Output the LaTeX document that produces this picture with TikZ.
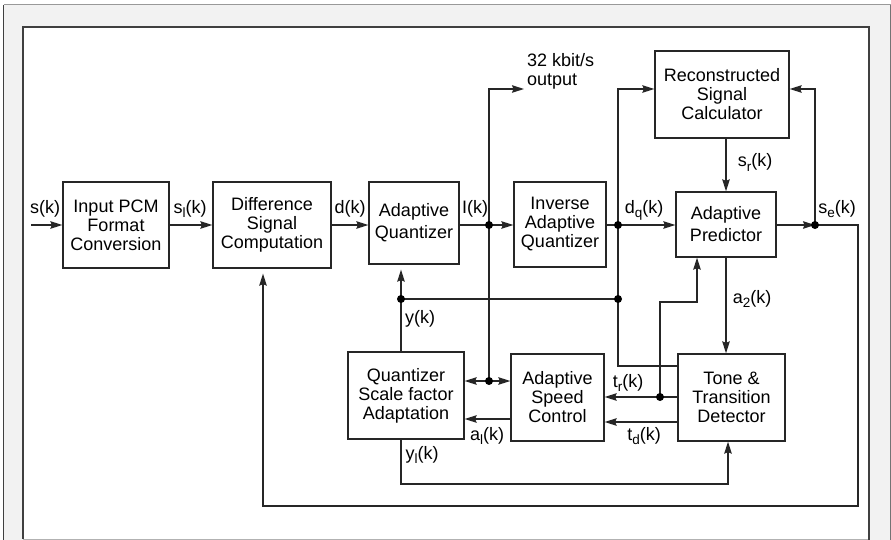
\documentclass[tikz,border=0pt]{standalone}
\usepackage{fontspec}
\setmainfont{Liberation Sans}
\usetikzlibrary{arrows.meta}
\newcommand\dgfont{\fontsize{18}{19}\selectfont}
% lowered subscript for signal names
\newcommand\dgsub[1]{\raisebox{-4.5pt}{\fontsize{13.5}{13.5}\selectfont #1}}
\begin{document}
\begin{tikzpicture}[x=1pt,y=-1pt,
  box/.style={draw=black!85, line width=1.3pt, fill=white, align=center,
              inner sep=0pt, font=\dgfont},
  lbl/.style={font=\dgfont, inner sep=0pt, anchor=base},
  wire/.style={draw=black!85, line width=1.2pt},
  arr/.style={wire, -{Stealth[length=12pt,width=7.5pt,inset=1.5pt]}},
  jdot/.style={circle, fill=black, inner sep=0pt, minimum size=8pt}]

% sheet and frame
\useasboundingbox (0,0) rectangle (891,540);
\fill[white] (0,0) rectangle (891,540);
\fill[black!5] (3.5,5) rectangle (891,545);
\draw[black!40, line width=1pt] (3.5,5) -- (891,5);
\draw[black!75, line width=1.6pt] (3.5,5) -- (3.5,545);
\draw[black!55, line width=1pt] (890.5,5) -- (890.5,545);
\fill[white] (23,27) rectangle (869,539);
\draw[black!30, line width=1pt] (23,539) -- (869,539);
\draw[black!75, line width=1.4pt] (23,539) -- (23,27) -- (869,27) -- (869,545);

% blocks
\node[box, minimum width=106pt, minimum height=86pt] (pcm)  at (116,225)   {Input PCM\\Format\\Conversion};
\node[box, minimum width=118pt, minimum height=86pt] (diff) at (272,225)   {Difference\\Signal\\Computation};
\node[box, minimum width=90pt,  minimum height=82pt] (aq)   at (414,223)   {Adaptive\\[3pt]Quantizer};
\node[box, minimum width=92pt,  minimum height=85pt] (iaq)  at (560,224.5) {Inverse\\Adaptive\\Quantizer};
\node[box, minimum width=100pt, minimum height=65pt] (ap)   at (726,224.5) {Adaptive\\[3pt]Predictor};
\node[box, minimum width=134pt, minimum height=87pt] (rsc)  at (722,94.5)  {Reconstructed\\Signal\\Calculator};
\node[box, minimum width=116pt, minimum height=87pt] (qsfa) at (406,395.5) {Quantizer\\Scale factor\\Adaptation};
\node[box, minimum width=93pt,  minimum height=87pt] (asc)  at (557.5,397.5) {Adaptive\\Speed\\Control};
\node[box, minimum width=107pt, minimum height=87pt] (ttd)  at (731.5,397.5) {Tone \&\\Transition\\Detector};

% junctions and bends
\coordinate (in)     at (31,225);
\coordinate (idot)   at (489,225);
\coordinate (dqdot)  at (618,225);
\coordinate (sedot)  at (815,225);
\coordinate (ydot)   at (401,299);
\coordinate (ydotr)  at (618,299);
\coordinate (isplit) at (489,381);
\coordinate (trdot)  at (660,397);
\coordinate (outbend) at (489,89);
\coordinate (outtip)  at (524,89);
\coordinate (rbend)  at (618,89);
\coordinate (sebend) at (815,89);
\coordinate (dqlow)  at (618,366);
\coordinate (fb1)    at (858,225);
\coordinate (fb2)    at (858,506);
\coordinate (fb3)    at (263,506);
\coordinate (tr1)    at (660,302);
\coordinate (tr2)    at (697,302);
\coordinate (yl1)    at (401,484);
\coordinate (yl2)    at (728,484);

% forward path
\draw[arr] (in) -- (pcm.west);
\draw[arr] (pcm.east) -- (diff.west);
\draw[arr] (diff.east) -- (diff.east -| aq.west);
\draw[wire] (aq.east |- idot) -- (idot);
\draw[arr] (idot) -- (idot -| iaq.west);
\draw[wire] (iaq.east |- dqdot) -- (dqdot);
\draw[arr] (dqdot) -- (dqdot -| ap.west);
\draw[arr] (ap.east |- sedot) -- (sedot);

% 32 kbit/s output and I(k) branch
\draw[arr] (isplit) -- (outbend) -- (outtip);
\draw[arr] (isplit) -- (isplit -| qsfa.east);
\draw[arr] (isplit) -- (isplit -| asc.west);

% reconstructed signal loop
\draw[arr] (dqdot) -- (rbend) -- (rbend -| rsc.west);
\draw[arr] (sedot) -- (sebend) -- (sebend -| rsc.east);
\draw[arr] (rsc.south -| ap.north) -- (ap.north);

% estimate fed back to difference computation
\draw[arr, shorten >=5pt] (sedot) -- (fb1) -- (fb2) -- (fb3) -- (fb3 |- diff.south);

% scale factor
\draw[arr, shorten >=5pt] (ydot |- qsfa.north) -- (ydot |- aq.south);
\draw[wire] (ydot) -- (ydotr);
\draw[wire] (dqdot) -- (dqlow) -- (dqlow -| ttd.west);
\draw[arr] ([yshift=-21.5pt]asc.west) -- ([yshift=-21.5pt]asc.west -| qsfa.east);
\draw[arr] (yl1 |- qsfa.south) -- (yl1) -- (yl2) -- (yl2 |- ttd.south);

% tone and transition signals
\draw[arr] (ap.south) -- (ap.south |- ttd.north);
\draw[arr] (trdot -| ttd.west) -- (trdot -| asc.east);
\draw[arr] (trdot) -- (tr1) -- (tr2) -- (tr2 |- ap.south);
\draw[arr] ([yshift=-24.5pt]ttd.west) -- ([yshift=-24.5pt]ttd.west -| asc.east);

% junction dots
\foreach \p in {idot,dqdot,sedot,ydot,ydotr,isplit,trdot}
  \node[jdot] at (\p) {};

% signal labels
\node[lbl] (l-s)  at (45,213)  {s(k)};
\node[lbl] (l-sl) at (190,213) {s\dgsub{l}(k)};
\node[lbl] (l-d)  at (350,213) {d(k)};
\node[lbl] (l-I)  at (475,213) {I(k)};
\node[lbl] (l-dq) at (644,213) {d\dgsub{q}(k)};
\node[lbl] (l-se) at (837,213) {s\dgsub{e}(k)};
\node[lbl] (l-sr) at (755,167) {s\dgsub{r}(k)};
\node[lbl] (l-a2) at (752,303) {a\dgsub{2}(k)};
\node[lbl] (l-y)  at (420,323) {y(k)};
\node[lbl] (l-tr) at (628,387) {t\dgsub{r}(k)};
\node[lbl] (l-td) at (644,440) {t\dgsub{d}(k)};
\node[lbl] (l-al) at (487,440) {a\dgsub{l}(k)};
\node[lbl] (l-yl) at (422,459) {y\dgsub{l}(k)};
\node[font=\dgfont, inner sep=0pt, anchor=base west, align=left] (l-out) at (527,85.5)
  {32 kbit/s\\[-0.5pt]output};

\end{tikzpicture}
\end{document}
